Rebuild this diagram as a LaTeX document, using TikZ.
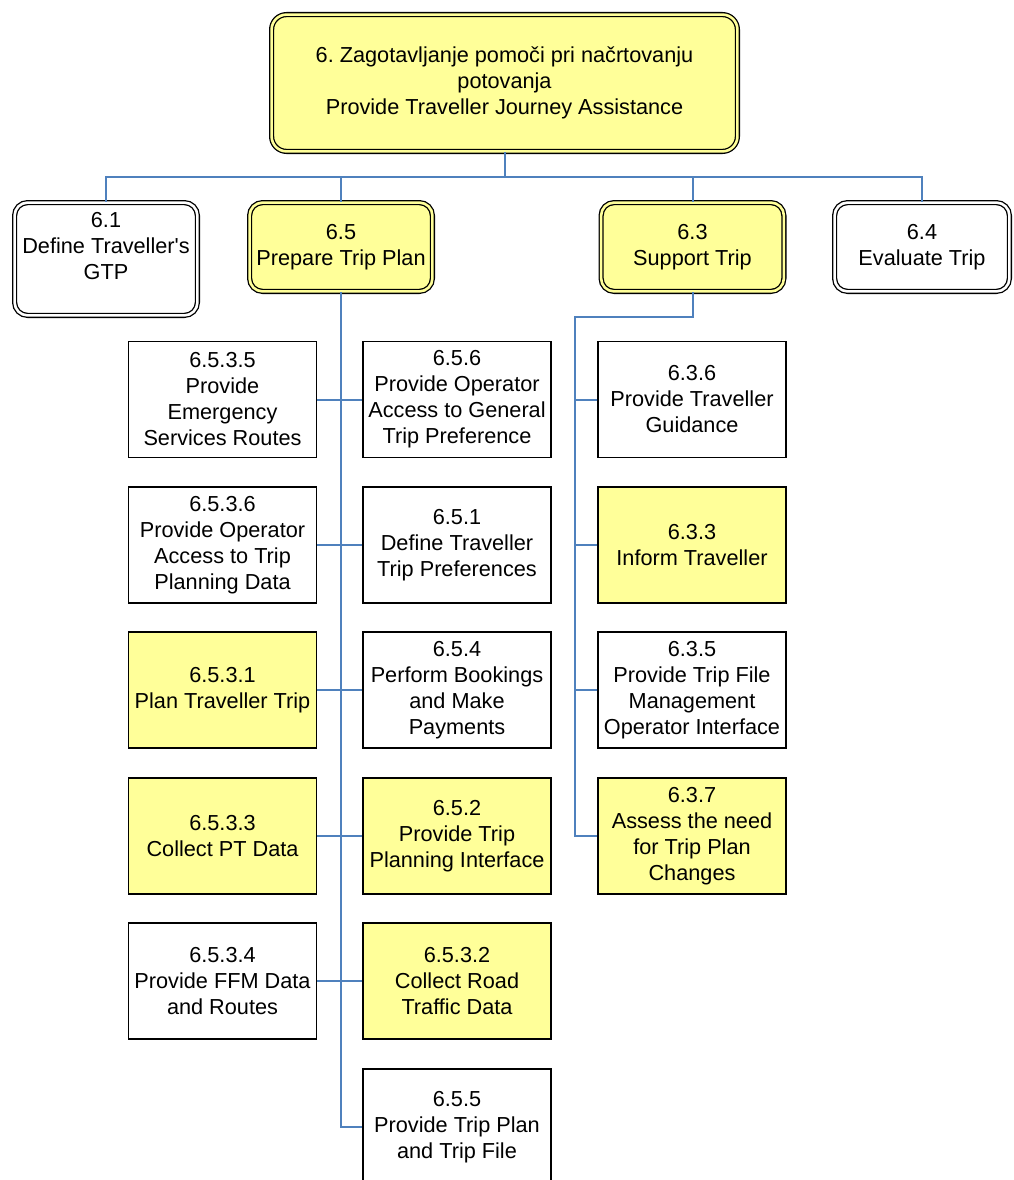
\documentclass[tikz,border=0pt]{standalone}
\usepackage{fontspec}
\setmainfont{Liberation Sans}
\frenchspacing
\definecolor{boxyellow}{RGB}{255,255,153}
\definecolor{wireblue}{RGB}{79,129,189}
\begin{document}
\begin{tikzpicture}[
		x=1pt, y=-1pt,
		every node/.style={font=\fontsize{21.7pt}{26pt}\selectfont, align=center},
		task/.style={draw, line width=1.5pt, minimum width=188pt, minimum height=116pt, inner sep=2pt},
		group/.style={draw, rounded corners=13pt, line width=1.3pt, double=white, double distance=2.6pt,
				minimum width=182.8pt, minimum height=88.8pt, inner sep=1pt},
		hot/.style={fill=boxyellow},
		hotgroup/.style={fill=boxyellow, double=boxyellow},
		wire/.style={wireblue, line width=2pt}
	]
	\useasboundingbox (0,0) rectangle (1013,1180);
	\node[group, hotgroup, minimum width=465.8pt, minimum height=136.8pt, rounded corners=15pt] (top) at (504.5,83)
		{6. Zagotavljanje pomoči pri načrtovanju\\potovanja\\Provide Traveller Journey Assistance};
	\node[group, minimum height=112.8pt] (g61) at (106,259) {6.1\\Define Traveller\textquotesingle s\\GTP\\\mbox{}};
	\node[group, hotgroup] (g65) at (341,247) {6.5\\Prepare Trip Plan};
	\node[group, hotgroup] (g63) at (692.5,247) {6.3\\Support Trip};
	\node[group, minimum width=174.8pt] (g64) at (922,247) {6.4\\Evaluate Trip};

	\node[task] (a6535) at (222.5,399.5) {6.5.3.5\\Provide\\Emergency\\Services Routes};
	\node[task] (a6536) at (222.5,545) {6.5.3.6\\Provide Operator\\Access to Trip\\Planning Data};
	\node[task, hot] (a6531) at (222.5,690) {6.5.3.1\\Plan Traveller Trip};
	\node[task, hot] (a6533) at (222.5,836) {6.5.3.3\\Collect PT Data};
	\node[task] (a6534) at (222.5,981) {6.5.3.4\\Provide FFM Data\\and Routes};

	\node[task] (a656) at (457,399.5) {6.5.6\\Provide Operator\\Access to General\\Trip Preference};
	\node[task] (a651) at (457,545) {6.5.1\\Define Traveller\\Trip Preferences};
	\node[task] (a654) at (457,690) {6.5.4\\Perform Bookings\\and Make\\Payments};
	\node[task, hot] (a652) at (457,836) {6.5.2\\Provide Trip\\Planning Interface};
	\node[task, hot] (a6532) at (457,981) {6.5.3.2\\Collect Road\\Traffic Data};
	\node[task] (a655) at (457,1127) {6.5.5\\Provide Trip Plan\\and Trip File};

	\node[task] (a636) at (692,399.5) {6.3.6\\Provide Traveller\\Guidance};
	\node[task, hot] (a633) at (692,545) {6.3.3\\Inform Traveller};
	\node[task] (a635) at (692,690) {6.3.5\\Provide Trip File\\Management\\Operator Interface};
	\node[task, hot] (a637) at (692,836) {6.3.7\\Assess the need\\for Trip Plan\\Changes};

	\coordinate (bus) at (504.5,177);
	\coordinate (c63) at (575,317);
	\draw[wire] (top.south) -- (bus);
	\foreach \g in {g61,g65,g63,g64}
		\draw[wire] (\g.north) |- (bus);
	\draw[wire] (g65.south) |- (a655.west);
	\foreach \l/\r in {a6535/a656,a6536/a651,a6531/a654,a6533/a652,a6534/a6532}
		\draw[wire] (\l.east) -- (\r.west);
	\draw[wire] (g63.south) |- (c63) |- (a637.west);
	\foreach \t in {a636,a633,a635}
		\draw[wire] (\t.west) -- (\t.west -| c63);
\end{tikzpicture}
\end{document}
